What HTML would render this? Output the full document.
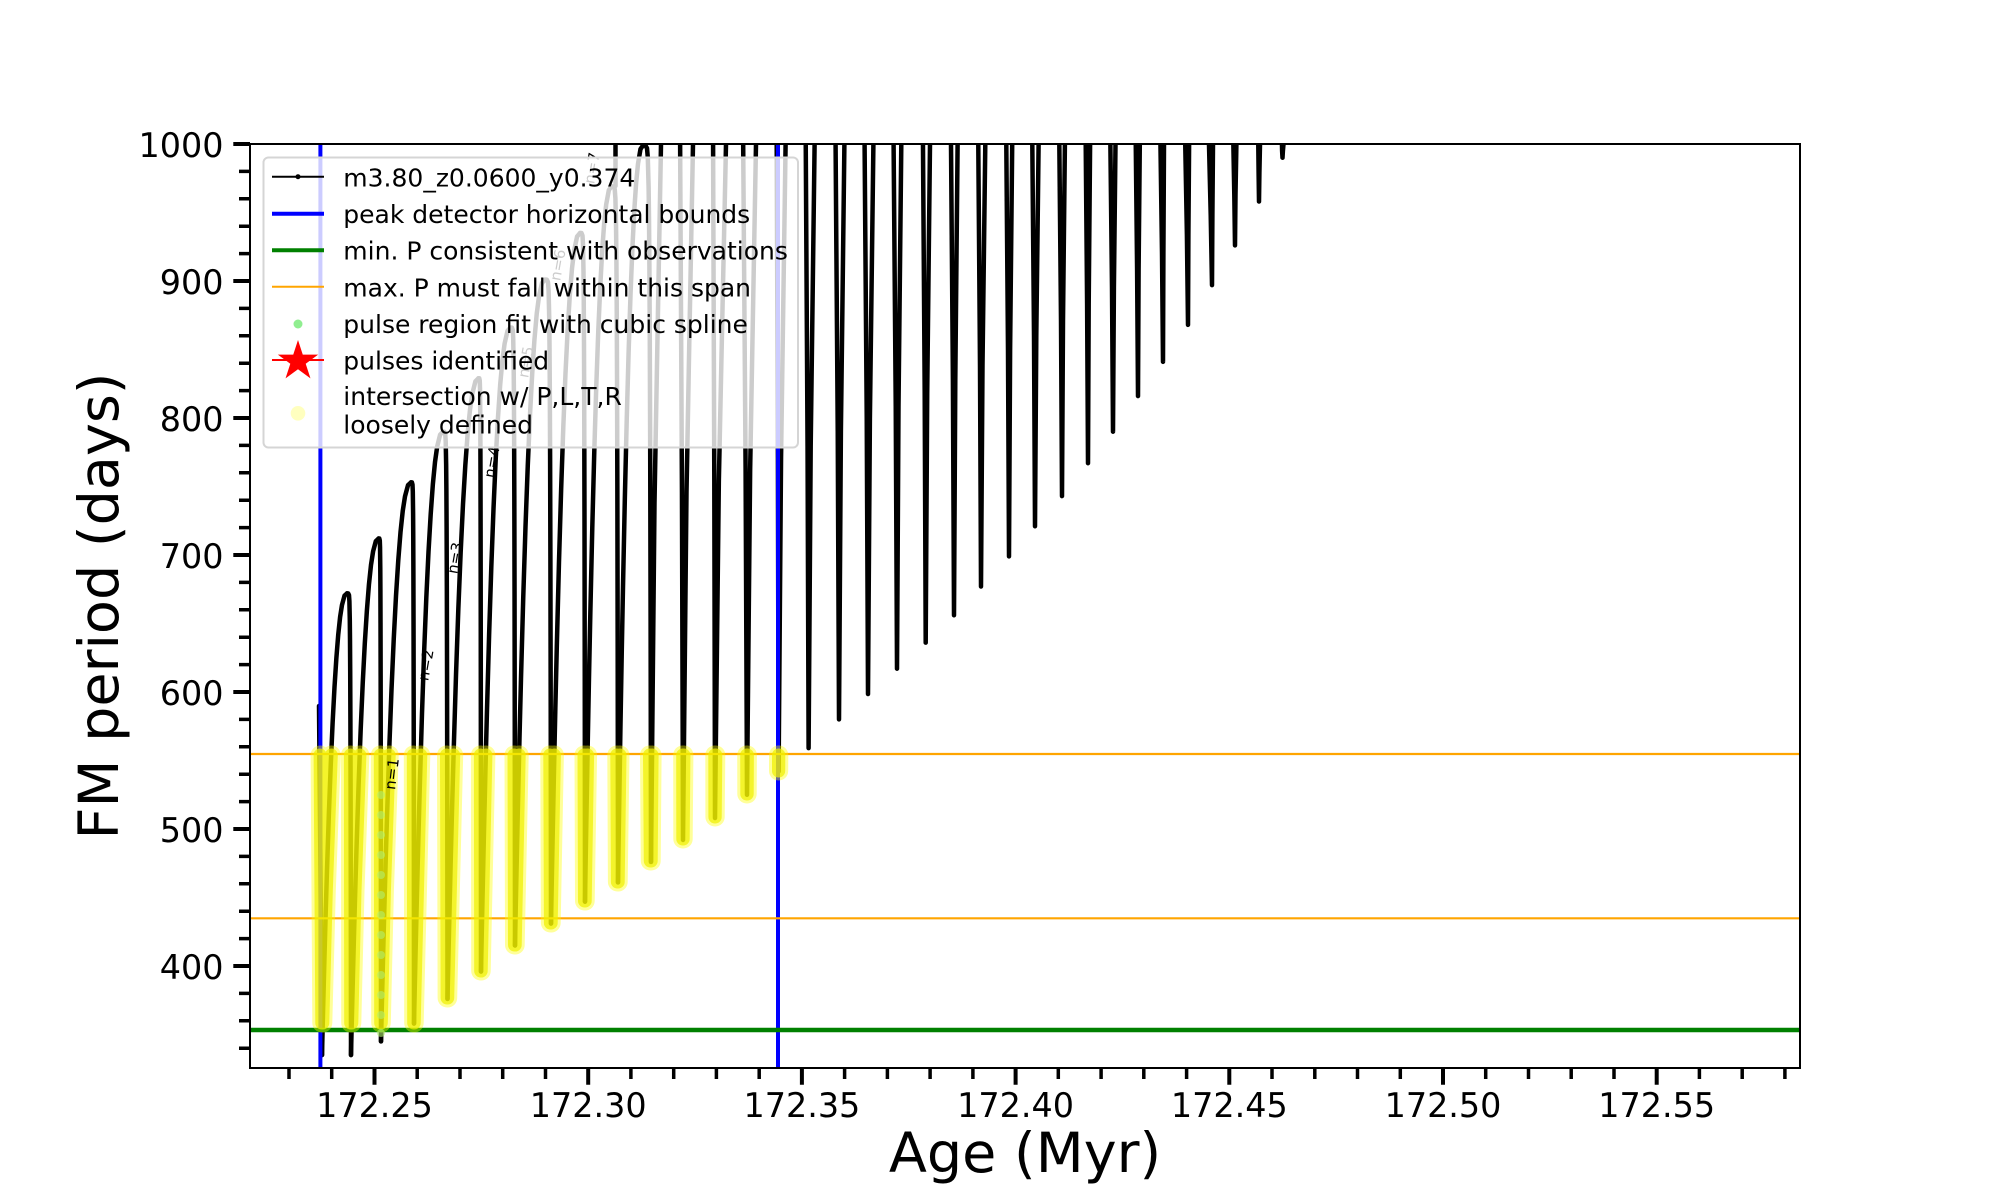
<!DOCTYPE html>
<html><head><meta charset="utf-8"><style>
html,body{margin:0;padding:0;background:#fff;overflow:hidden}
svg{display:block}
.c path{vector-effect:non-scaling-stroke}
text{font-family:"DejaVu Sans","Liberation Sans",sans-serif}
</style></head><body>
<svg width="2000" height="1200" viewBox="0 0 2000 1200" xmlns="http://www.w3.org/2000/svg">
<rect width="2000" height="1200" fill="#fff"/>
<defs><clipPath id="ax"><rect x="250" y="144" width="1550" height="924"/></clipPath></defs>
<g clip-path="url(#ax)">
<g class="c" fill="none" stroke="#000" stroke-width="4.5" stroke-linejoin="round" stroke-linecap="round">
<path d="M319 706 L320.3 850 L322 1055"/>
<path d="M0 0 L0.025 0.057 L0.05 0.111 L0.1 0.215 L0.15 0.312 L0.2 0.401 L0.275 0.523 L0.35 0.629 L0.425 0.72 L0.5 0.797 L0.575 0.86 L0.65 0.911 L0.725 0.949 L0.8 0.975 L0.9 0.995 L1 1" transform="translate(322 1055.05) scale(25 -461.69)"/>
<path d="M0 0 L0.025 0.057 L0.05 0.111 L0.1 0.215 L0.15 0.312 L0.2 0.401 L0.275 0.523 L0.35 0.629 L0.425 0.72 L0.5 0.797 L0.575 0.86 L0.65 0.911 L0.725 0.949 L0.8 0.975 L0.9 0.995 L1 1" transform="translate(351 1055.05) scale(27.6 -516.49)"/>
<path d="M0 0 L0.025 0.057 L0.05 0.111 L0.1 0.215 L0.15 0.312 L0.2 0.401 L0.275 0.523 L0.35 0.629 L0.425 0.72 L0.5 0.797 L0.575 0.86 L0.65 0.911 L0.725 0.949 L0.8 0.975 L0.9 0.995 L1 1" transform="translate(381 1041.35) scale(30 -558.96)"/>
<path d="M0 0 L0.025 0.057 L0.05 0.111 L0.1 0.215 L0.15 0.312 L0.2 0.401 L0.275 0.523 L0.35 0.629 L0.425 0.72 L0.5 0.797 L0.575 0.86 L0.65 0.911 L0.725 0.949 L0.8 0.975 L0.9 0.995 L1 1" transform="translate(414 1023.54) scale(29 -591.84)"/>
<path d="M0 0 L0.025 0.057 L0.05 0.111 L0.1 0.215 L0.15 0.312 L0.2 0.401 L0.275 0.523 L0.35 0.629 L0.425 0.72 L0.5 0.797 L0.575 0.86 L0.65 0.911 L0.725 0.949 L0.8 0.975 L0.9 0.995 L1 1" transform="translate(447.5 998.88) scale(31 -620.61)"/>
<path d="M0 0 L0.025 0.057 L0.05 0.111 L0.1 0.215 L0.15 0.312 L0.2 0.401 L0.275 0.523 L0.35 0.629 L0.425 0.72 L0.5 0.797 L0.575 0.86 L0.65 0.911 L0.725 0.949 L0.8 0.975 L0.9 0.995 L1 1" transform="translate(481 971.48) scale(29.5 -643.9)"/>
<path d="M0 0 L0.025 0.057 L0.05 0.111 L0.1 0.215 L0.15 0.312 L0.2 0.401 L0.275 0.523 L0.35 0.629 L0.425 0.72 L0.5 0.797 L0.575 0.86 L0.65 0.911 L0.725 0.949 L0.8 0.975 L0.9 0.995 L1 1" transform="translate(515 945.45) scale(30 -665.82)"/>
<path d="M0 0 L0.025 0.057 L0.05 0.111 L0.1 0.215 L0.15 0.312 L0.2 0.401 L0.275 0.523 L0.35 0.629 L0.425 0.72 L0.5 0.797 L0.575 0.86 L0.65 0.911 L0.725 0.949 L0.8 0.975 L0.9 0.995 L1 1" transform="translate(551 923.53) scale(29 -690.48)"/>
<path d="M0 0 L0.025 0.057 L0.05 0.111 L0.1 0.215 L0.15 0.312 L0.2 0.401 L0.275 0.523 L0.35 0.629 L0.425 0.72 L0.5 0.797 L0.575 0.86 L0.65 0.911 L0.725 0.949 L0.8 0.975 L0.9 0.995 L1 1" transform="translate(585 901.61) scale(26.5 -715.14)"/>
<path d="M0 0 L0.025 0.057 L0.05 0.111 L0.1 0.215 L0.15 0.312 L0.2 0.401 L0.275 0.523 L0.35 0.629 L0.425 0.72 L0.5 0.797 L0.575 0.86 L0.65 0.911 L0.725 0.949 L0.8 0.975 L0.9 0.995 L1 1" transform="translate(618 882.43) scale(25 -737.06)"/>
<path d="M0 0 L0.3 0 L0.5 0.004 L0.6 0.017 L0.7 0.058 L0.75 0.1 L0.8 0.168 L0.85 0.273 L0.9 0.43 L0.95 0.663 L1 1" transform="translate(347 593.36) scale(4 461.69)"/>
<path d="M0 0 L0.3 0 L0.5 0.004 L0.6 0.017 L0.7 0.058 L0.75 0.1 L0.8 0.168 L0.85 0.273 L0.9 0.43 L0.95 0.663 L1 1" transform="translate(378.6 538.56) scale(2.4 502.79)"/>
<path d="M0 0 L0.3 0 L0.5 0.004 L0.6 0.017 L0.7 0.058 L0.75 0.1 L0.8 0.168 L0.85 0.273 L0.9 0.43 L0.95 0.663 L1 1" transform="translate(411 482.39) scale(3 541.15)"/>
<path d="M0 0 L0.3 0 L0.5 0.004 L0.6 0.017 L0.7 0.058 L0.75 0.1 L0.8 0.168 L0.85 0.273 L0.9 0.43 L0.95 0.663 L1 1" transform="translate(443 431.7) scale(4.5 567.18)"/>
<path d="M0 0 L0.3 0 L0.5 0.004 L0.6 0.017 L0.7 0.058 L0.75 0.1 L0.8 0.168 L0.85 0.273 L0.9 0.43 L0.95 0.663 L1 1" transform="translate(478.5 378.27) scale(2.5 593.21)"/>
<path d="M0 0 L0.3 0 L0.5 0.004 L0.6 0.017 L0.7 0.058 L0.75 0.1 L0.8 0.168 L0.85 0.273 L0.9 0.43 L0.95 0.663 L1 1" transform="translate(510.5 327.58) scale(4.5 617.87)"/>
<path d="M0 0 L0.3 0 L0.5 0.004 L0.6 0.017 L0.7 0.058 L0.75 0.1 L0.8 0.168 L0.85 0.273 L0.9 0.43 L0.95 0.663 L1 1" transform="translate(545 279.63) scale(6 643.9)"/>
<path d="M0 0 L0.3 0 L0.5 0.004 L0.6 0.017 L0.7 0.058 L0.75 0.1 L0.8 0.168 L0.85 0.273 L0.9 0.43 L0.95 0.663 L1 1" transform="translate(580 233.05) scale(5 668.56)"/>
<path d="M0 0 L0.3 0 L0.5 0.004 L0.6 0.017 L0.7 0.058 L0.75 0.1 L0.8 0.168 L0.85 0.273 L0.9 0.43 L0.95 0.663 L1 1" transform="translate(611.5 186.47) scale(6.5 695.96)"/>
<path d="M0 0 L0.3 0 L0.5 0.004 L0.6 0.017 L0.7 0.058 L0.75 0.1 L0.8 0.168 L0.85 0.273 L0.9 0.43 L0.95 0.663 L1 1" transform="translate(643 145.37) scale(8 716.51)"/>
<path d="M615.5 140 L615.5 186
M651 861.88 L654.5 502.9 L661 144 L661.5 120
M680 120 L681.95 491.98 L683 839.96 L686.5 491.98 L693 144 L693.5 120
M713 120 L714.3 481.02 L715 818.04 L718.85 481.02 L726 144 L726.5 120
M743 120 L745.6 469.4 L747 794.75 L750.15 469.4 L756 144 L756.5 120
M776.6 120 L777.9 457.7 L778.6 771.46 L781.05 457.7 L785.6 144 L786 120
M805.6 120 L807.55 446.1 L808.6 748.17 L810.7 446.1 L814.6 144 L815 120
M835.4 120 L837.74 431.7 L839 719.4 L840.89 431.7 L844.4 144 L844.8 120
M864.4 120 L866.74 419 L868 694.05 L869.89 419 L873.4 144 L873.8 120
M893.4 120 L895.74 406.4 L897 668.71 L898.5 406.4 L901.3 144 L901.6 120
M922.8 120 L924.7 393.3 L925.7 642.68 L927.2 393.3 L930 144 L930.3 120
M950.8 120 L952.9 379.6 L954 615.28 L955.3 379.6 L957.6 144 L957.9 120
M978.1 120 L980 365.3 L981 586.51 L982.5 365.3 L985.3 144 L985.6 120
M1006.1 120 L1008 350.2 L1009 556.37 L1010.1 350.2 L1012.2 144 L1012.5 120
M1032.1 120 L1034 335.1 L1035 526.23 L1036.3 335.1 L1038.6 144 L1038.9 120
M1059.1 120 L1061 320 L1062 496.09 L1063 320 L1064.9 144 L1065.2 120
M1085.5 120 L1087.1 303.6 L1088 463.21 L1088.7 303.6 L1090.1 144 L1090.4 120
M1110.1 120 L1112 287.9 L1113 431.7 L1113.9 287.9 L1115.5 144 L1115.8 120
M1135.5 120 L1137.1 270 L1138 396.08 L1138.6 270 L1139.8 144 L1140 120
M1160.1 120 L1162 252.9 L1163 361.83 L1163.4 252.9 L1164 144 L1164.2 120
M1184.8 120 L1186.9 234.4 L1188 324.84 L1188.4 234.4 L1189.1 144 L1189.3 120
M1208.4 120 L1210.7 214.6 L1212 285.11 L1212.4 214.6 L1213 144 L1213.2 120
M1232.9 120 L1234.3 194.7 L1235 245.38 L1235.5 194.7 L1236.4 144 L1236.6 120
M1258 120 L1258.6 172.8 L1259 201.54 L1259.4 172.8 L1260 144 L1260.2 120
M1281.5 120 L1282.1 150.9 L1282.5 157.7 L1282.9 150.9 L1283.5 144 L1283.7 120"/>
</g>
<line x1="320.4" y1="144" x2="320.4" y2="1068" stroke="#0000ff" stroke-width="4"/>
<line x1="778" y1="144" x2="778" y2="1068" stroke="#0000ff" stroke-width="4"/>
<line x1="250" y1="1030" x2="1800" y2="1030" stroke="#008000" stroke-width="4.5"/>
<line x1="250" y1="754" x2="1800" y2="754" stroke="#ffa500" stroke-width="2.2"/>
<line x1="250" y1="918.3" x2="1800" y2="918.3" stroke="#ffa500" stroke-width="2.2"/>
<defs><path id="ys" d="M321.8 1023 L320.1 755 M322.8 1023 L326.3 891 L331.3 755 M350.7 1023 L350.4 755 M351.8 1023 L355 891 L359.9 755 M380.7 1023 L380.3 755 M381.3 1023 L384.4 891 L389.2 755 M413.7 1023 L413.3 755 M414.2 1023 L420.8 755 M447.1 998 L446.5 755 M447.7 998 L453.7 755 M480.7 971 L480.4 755 M481.2 971 L485.9 755 M514.5 945 L514 755 M515.2 945 L519.2 755 M550.4 923 L549.8 755 M551.2 923 L554.4 755 M584.5 901 L584 755 M585.2 901 L587.6 755 M617.4 882 L616.8 755 M618.2 882 L620 755 M650.3 861 L649.5 755 M651.2 861 L652.1 755 M682.8 839 L682.7 755 M683.2 839 L683.9 755 M714.9 817 L714.8 755 M715.2 817 L715.8 755 M746.8 794 L746.7 755 M747.2 794 L747.4 755 M778.5 771 L778.5 755 M778.7 771 L778.8 755"/></defs>
<use href="#ys" fill="none" stroke="#ffff00" stroke-opacity="0.4" stroke-width="19" stroke-linecap="round"/>
<use href="#ys" fill="none" stroke="#f0f000" stroke-opacity="0.72" stroke-width="13" stroke-linecap="round"/>
<g fill="#b0f070" fill-opacity="0.6">
<circle cx="381" cy="795" r="4"/><circle cx="381" cy="815" r="4"/><circle cx="381" cy="835" r="4"/><circle cx="381" cy="855" r="4"/><circle cx="381" cy="875" r="4"/><circle cx="381" cy="895" r="4"/><circle cx="381" cy="915" r="4"/><circle cx="381" cy="935" r="4"/><circle cx="381" cy="955" r="4"/><circle cx="381" cy="975" r="4"/><circle cx="381" cy="995" r="4"/><circle cx="381" cy="1015" r="4"/><circle cx="381" cy="1033" r="4"/>
</g>
<g font-size="15" fill="#000" text-anchor="middle">
<text transform="translate(392 774) rotate(-83)" dy="5">n=1</text>
<text transform="translate(426 665) rotate(-80)" dy="5">n=2</text>
<text transform="translate(455 558) rotate(-80)" dy="5">n=3</text>
<text transform="translate(492 462) rotate(-80)" dy="5">n=4</text>
<text transform="translate(526 362) rotate(-80)" dy="5">n=5</text>
<text transform="translate(558 265) rotate(-80)" dy="5">n=6</text>
<text transform="translate(592 168) rotate(-80)" dy="5">n=7</text>
</g>
</g>
<!-- legend -->
<rect x="263.5" y="157.5" width="534.5" height="290" rx="5" fill="#fff" fill-opacity="0.8" stroke="#d5d5d5" stroke-width="2"/>
<line x1="272" y1="176.7" x2="324" y2="176.7" stroke="#000" stroke-width="2"/>
<circle cx="298" cy="176.7" r="2.5" fill="#000"/>
<line x1="272" y1="213.7" x2="324" y2="213.7" stroke="#0000ff" stroke-width="4"/>
<line x1="272" y1="250.3" x2="324" y2="250.3" stroke="#008000" stroke-width="4"/>
<line x1="272" y1="286.7" x2="324" y2="286.7" stroke="#ffa500" stroke-width="2"/>
<circle cx="298" cy="324" r="4.5" fill="#90ee90"/>
<line x1="272" y1="360" x2="324" y2="360" stroke="#ff0000" stroke-width="2"/>
<polygon points="298,340 302.76,354.65 318.16,354.65 305.7,363.7 310.46,378.35 298,369.3 285.54,378.35 290.3,363.7 277.84,354.65 293.24,354.65" fill="#ff0000"/>
<circle cx="298" cy="413.3" r="7.3" fill="#ffffbf"/>
<g font-size="25" fill="#000">
<text x="343.3" y="186.7">m3.80_z0.0600_y0.374</text>
<text x="343.3" y="223">peak detector horizontal bounds</text>
<text x="343.3" y="259.7">min. P consistent with observations</text>
<text x="343.3" y="296.3">max. P must fall within this span</text>
<text x="343.3" y="333">pulse region fit with cubic spline</text>
<text x="343.3" y="369.5">pulses identified</text>
<text x="343.3" y="405">intersection w/ P,L,T,R</text>
<text x="343.3" y="433.5">loosely defined</text>
</g>
<!-- spines -->
<rect x="250" y="144" width="1550" height="924" fill="none" stroke="#000" stroke-width="2"/>
<!-- ticks -->
<path fill="none" stroke="#000" stroke-width="4" d="M374.5 1068V1084.7M588.2 1068V1084.7M801.9 1068V1084.7M1015.6 1068V1084.7M1229.3 1068V1084.7M1443 1068V1084.7M1656.7 1068V1084.7
M233.3 966H250M233.3 829H250M233.3 692H250M233.3 555H250M233.3 418H250M233.3 281H250M233.3 144H250"/>
<path fill="none" stroke="#000" stroke-width="3.5" d="M289 1068V1079M331.7 1068V1079M417.2 1068V1079M460 1068V1079M502.7 1068V1079M545.5 1068V1079M630.9 1068V1079M673.7 1068V1079M716.4 1068V1079M759.2 1068V1079M844.6 1068V1079M887.4 1068V1079M930.1 1068V1079M972.9 1068V1079M1058.3 1068V1079M1101.1 1068V1079M1143.8 1068V1079M1186.6 1068V1079M1272 1068V1079M1314.8 1068V1079M1357.5 1068V1079M1400.3 1068V1079M1485.7 1068V1079M1528.5 1068V1079M1571.2 1068V1079M1614 1068V1079M1699.4 1068V1079M1742.2 1068V1079M1784.9 1068V1079
M239 1048.2H250M239 1020.8H250M239 993.4H250M239 938.6H250M239 911.2H250M239 883.8H250M239 856.4H250M239 801.6H250M239 774.2H250M239 746.8H250M239 719.4H250M239 664.6H250M239 637.2H250M239 609.8H250M239 582.4H250M239 527.6H250M239 500.2H250M239 472.8H250M239 445.4H250M239 390.6H250M239 363.2H250M239 335.8H250M239 308.4H250M239 253.6H250M239 226.2H250M239 198.8H250M239 171.4H250"/>
<g font-size="33.4" fill="#000" text-anchor="middle">
<text x="374.5" y="1117">172.25</text>
<text x="588.2" y="1117">172.30</text>
<text x="801.9" y="1117">172.35</text>
<text x="1015.6" y="1117">172.40</text>
<text x="1229.3" y="1117">172.45</text>
<text x="1443" y="1117">172.50</text>
<text x="1656.7" y="1117">172.55</text>
</g>
<g font-size="33.4" fill="#000" text-anchor="end">
<text x="223.5" y="979">400</text>
<text x="223.5" y="842">500</text>
<text x="223.5" y="705">600</text>
<text x="223.5" y="568">700</text>
<text x="223.5" y="431">800</text>
<text x="223.5" y="294">900</text>
<text x="223.5" y="157">1000</text>
</g>
<text x="1025" y="1172" font-size="55.6" text-anchor="middle" fill="#000">Age (Myr)</text>
<text transform="translate(118 606) rotate(-90)" font-size="55.6" text-anchor="middle" fill="#000">FM period (days)</text>
</svg>
</body></html>
